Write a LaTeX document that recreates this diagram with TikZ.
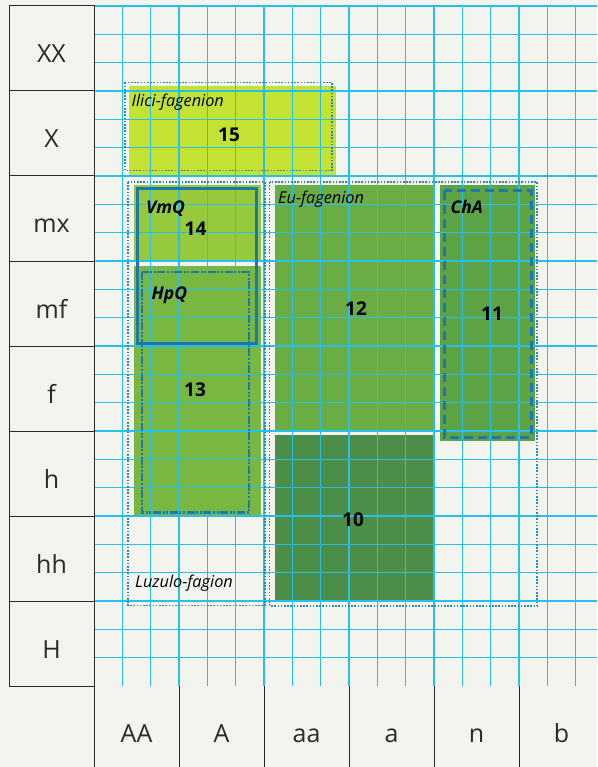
\documentclass[tikz,border=0pt]{standalone}
\usepackage{fontspec}
\setmainfont{Open Sans}
\definecolor{bgcol}{HTML}{F4F4EE}
\definecolor{gridcyan}{HTML}{27C0EA}
\definecolor{framegray}{HTML}{2A2A2A}
\definecolor{dotblue}{HTML}{2A88BC}
\definecolor{lineblue}{HTML}{1C78AA}
\definecolor{cfifteen}{HTML}{C3E234}
\definecolor{cfourteen}{HTML}{97C93D}
\definecolor{cthirteen}{HTML}{79B743}
\definecolor{ctwelve}{HTML}{6AAD45}
\definecolor{celeven}{HTML}{5DA244}
\definecolor{cten}{HTML}{4D8E48}
\begin{document}
\begin{tikzpicture}[x=1pt,y=-1pt,
  gridline/.style={draw=gridcyan, line width=1.5pt},
  frameline/.style={draw=framegray, line width=1pt},
  dotbox/.style={draw=dotblue, line width=1.4pt, dash pattern=on 1.6pt off 1.6pt},
  solidbox/.style={draw=lineblue, line width=3pt},
  dashbox/.style={draw=lineblue, line width=3pt, dash pattern=on 9pt off 5pt},
  dashdotbox/.style={draw=lineblue, line width=2.4pt, dash pattern=on 8pt off 1.6pt on 2pt off 1.6pt on 2pt off 1.6pt},
  axislabel/.style={inner sep=0pt, anchor=base, text=framegray, font=\fontsize{25}{30}\selectfont},
  numlabel/.style={inner sep=0pt, anchor=base, text=black, font=\bfseries\fontsize{19}{22}\selectfont},
  grouplabel/.style={inner sep=0pt, anchor=base west, text=black, font=\itshape\fontsize{16.3}{19}\selectfont},
  codelabel/.style={inner sep=0pt, anchor=base west, text=black, font=\bfseries\itshape\fontsize{17.5}{20}\selectfont}
]
\useasboundingbox (0,0) rectangle (597,767);
\fill[bgcol] (0,0) rectangle (597,767);

% coloured areas
\fill[cfifteen] (129,86) rectangle (336,175);
\fill[cfourteen] (134,185.5) rectangle (261,261);
\fill[cthirteen] (134,266) rectangle (261,515);
\fill[ctwelve] (275,185.5) rectangle (434,430.5);
\fill[cten] (275,434.5) rectangle (434,600);
\fill[celeven] (440,185.5) rectangle (535,441);

% cyan grid
\foreach \k in {1,...,17} {
  \draw[gridline] ({94+28.3333*\k},6) -- ({94+28.3333*\k},686);
}
\foreach \k in {0,...,23} {
  \draw[gridline] (94,{6+28.3333*\k}) -- (597,{6+28.3333*\k});
}

% frame of the row labels
\draw[frameline] (9,6) rectangle (94,686);
\foreach \k in {1,...,7} {
  \draw[frameline] (9,{6+85*\k}) -- (94,{6+85*\k});
}
\draw[frameline] (94,686) -- (94,767);
\foreach \k in {1,...,5} {
  \draw[frameline] ({94+85*\k},686) -- ({94+85*\k},767);
}

% row labels
\foreach \t [count=\i from 0] in {XX,X,mx,mf,f,h,hh,H} {
  \node[axislabel] (row\i) at (51.5,{63+85*\i}) {\t};
}
% column labels
\foreach \t [count=\i from 0] in {AA,A,aa,a,n,b} {
  \node[axislabel] (col\i) at ({136.5+85*\i},742) {\t};
}

% dotted group boxes
\draw[dotbox] (125,82.5) rectangle (332,170.5);
\draw[dotbox] (128,182) rectangle (265,605.5);
\draw[dotbox] (269.5,182) rectangle (537,606);

% blue outlined boxes
\draw[solidbox] (137,189) rectangle (256,343);
\draw[dashdotbox] (141.7,271.7) rectangle (248.7,512.5);
\draw[dashbox] (444.3,191) rectangle (531,437);

% group labels
\node[grouplabel] (ilici) at (131.5,106.7) {Ilici-fagenion};
\node[grouplabel] (eu) at (278,203.3) {Eu-fagenion};
\node[grouplabel] (luzulo) at (135,587.3) {Luzulo-fagion};

% code labels
\node[codelabel] (vmq) at (146,213.3) {VmQ};
\node[codelabel] (hpq) at (151.5,299.3) {HpQ};
\node[codelabel] (cha) at (450.5,213.3) {ChA};

% numbers
\node[numlabel] (n15) at (229,141.7) {15};
\node[numlabel] (n14) at (195.5,235) {14};
\node[numlabel] (n13) at (195,396) {13};
\node[numlabel] (n12) at (356,315) {12};
\node[numlabel] (n11) at (492,320) {11};
\node[numlabel] (n10) at (353,526) {10};
\end{tikzpicture}
\end{document}
